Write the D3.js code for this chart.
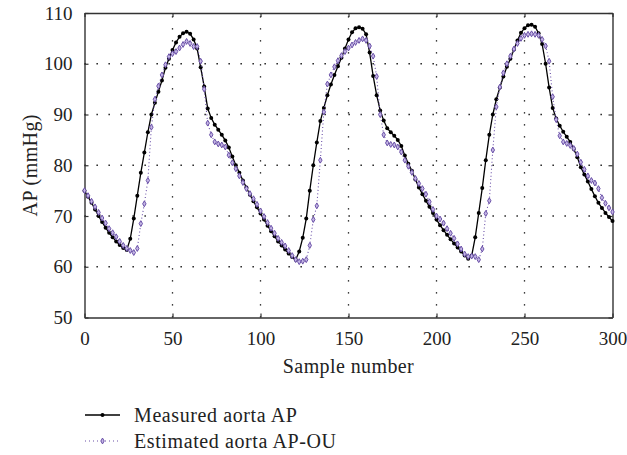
<!DOCTYPE html>
<html>
<head>
<meta charset="utf-8">
<script src="https://cdn.jsdelivr.net/npm/d3@7"></script>
<style>
  html, body { margin: 0; padding: 0; background: #fff; }
  svg text { font-family: "Liberation Serif", "DejaVu Serif", serif; fill: #222; }
</style>
</head>
<body>
<div id="chart"></div>
<script>
// sample index every 2 samples, 0..300
const samples = d3.range(0, 301, 2);

const measured = [
  75.0, 73.8, 72.6, 71.3, 70.0, 68.8, 67.7, 66.7, 65.8, 65.0,
  64.3, 63.7, 63.3, 65.5, 69.5, 74.0, 78.5, 82.5, 86.5, 90.0,
  92.3, 94.5, 96.7, 99.2, 101.0, 102.7, 104.2, 105.3, 106.0, 106.3,
  105.9, 104.8, 103.0, 99.3, 95.5, 91.2, 89.3, 88.0, 87.0, 86.0,
  84.9, 83.5, 81.7, 80.0, 78.5, 77.0, 75.6, 74.2, 72.9, 71.7,
  70.5, 69.3, 68.1, 67.0, 66.0, 65.0, 64.2, 63.4, 62.6, 61.9,
  61.4, 63.0, 65.7, 69.5, 75.0, 80.0, 84.5, 88.7, 91.3, 93.8,
  95.9, 97.8, 99.5, 101.2, 103.0, 104.8, 106.2, 107.0, 107.2, 106.9,
  105.8, 102.2, 97.6, 93.8, 90.8, 88.8, 87.3, 86.5, 85.8, 85.0,
  83.8, 81.9, 80.3, 78.9, 77.2, 75.6, 74.3, 73.0, 71.8, 70.6,
  69.3, 68.2, 67.2, 66.3, 65.4, 64.6, 63.8, 63.0, 62.2, 61.6,
  62.2, 65.8, 70.6, 75.5, 81.0, 86.0, 90.0, 93.0, 95.3, 97.5,
  99.4, 101.0, 102.8, 104.6, 106.1, 107.0, 107.6, 107.7, 107.3, 106.0,
  103.9, 100.0, 95.3, 91.3, 89.2, 87.8, 86.6, 85.6, 84.6, 83.2,
  81.6, 79.6, 78.2, 76.8, 75.3, 73.9, 72.6, 71.6, 70.6, 69.8,
  69.0
];

const estimated = [
  75.0, 74.0, 72.9, 71.8, 70.7, 69.6, 68.6, 67.5, 66.7, 65.9,
  65.0, 64.2, 63.6, 63.2, 62.8, 63.6, 68.5, 72.4, 77.0, 87.5,
  93.0, 95.6, 97.8, 99.8, 101.4, 102.0, 102.4, 103.1, 103.8, 104.4,
  104.0, 103.4, 103.4, 100.5, 95.0, 88.3, 86.0, 84.6, 84.2, 84.0,
  83.6, 82.0, 80.5, 79.3, 77.9, 76.6, 75.4, 74.4, 73.4, 72.3,
  71.0, 69.9, 68.7, 67.6, 66.6, 65.6, 64.8, 64.1, 63.2, 62.2,
  61.4, 61.0, 61.1, 61.4, 64.2, 69.3, 72.0, 81.0, 90.5, 96.0,
  97.8, 99.4, 100.6, 101.6, 102.4, 103.1, 103.7, 104.2, 104.6, 104.9,
  104.6, 103.5, 101.5, 97.5, 90.0, 86.0, 84.4, 84.1, 84.0, 83.6,
  82.6, 81.0, 79.8, 78.6, 77.4, 76.4, 75.4, 74.3, 72.8, 71.3,
  70.0, 69.4, 68.6, 67.5, 66.6, 65.6, 64.5, 63.5, 62.5, 62.0,
  62.1, 62.0, 61.4, 63.5, 70.5, 73.0, 83.0, 91.5, 95.4, 98.2,
  100.0, 101.5, 102.9, 104.0, 105.0, 105.6, 105.8, 105.9, 105.8, 105.6,
  104.8, 103.5, 100.5, 93.5, 89.0, 85.8, 84.6, 84.3, 83.9, 83.3,
  82.2, 80.6, 79.2, 77.9, 77.0, 76.5, 75.4, 73.6, 72.5, 71.6,
  70.8
];

const xTicks = [0, 50, 100, 150, 200, 250, 300];
const yTicks = [50, 60, 70, 80, 90, 100, 110];
const seriesNames = ["Measured aorta AP", "Estimated aorta AP-OU"];

const W = 627, H = 455;
const margin = { top: 13, right: 14.5, bottom: 137.5, left: 84.5 };
const purple = "#6a50a8";

const svg = d3.select("#chart").append("svg")
  .attr("width", W).attr("height", H);

const x = d3.scaleLinear().domain([0, 300]).range([margin.left, W - margin.right]);
const y = d3.scaleLinear().domain([50, 110]).range([H - margin.bottom, margin.top]);

// dotted grid
const grid = svg.append("g").attr("stroke", "#000").attr("stroke-width", 1.3)
  .attr("stroke-dasharray", "1.3,10.7");
grid.selectAll(".gx").data(xTicks.slice(1, -1)).join("line")
  .attr("x1", d => x(d)).attr("x2", d => x(d))
  .attr("y1", y(50)).attr("y2", y(110));
grid.selectAll(".gy").data(yTicks.slice(1, -1)).join("line")
  .attr("x1", x(0)).attr("x2", x(300))
  .attr("y1", d => y(d)).attr("y2", d => y(d));

// axes with inward ticks on all four sides
const fmt = d3.format("d");
const axes = [
  { ax: d3.axisBottom(x).tickValues(xTicks).tickFormat(fmt), t: `translate(0,${y(50)})` },
  { ax: d3.axisTop(x).tickValues(xTicks).tickFormat(""), t: `translate(0,${y(110)})` },
  { ax: d3.axisLeft(y).tickValues(yTicks).tickFormat(fmt), t: `translate(${x(0)},0)` },
  { ax: d3.axisRight(y).tickValues(yTicks).tickFormat(""), t: `translate(${x(300)},0)` }
];
axes.forEach((a, i) => {
  const g = svg.append("g").attr("transform", a.t)
    .call(a.ax.tickSizeInner(-4).tickSizeOuter(0).tickPadding(i < 2 ? 14 : 12));
  g.select(".domain").attr("stroke", "#333").attr("stroke-width", 1.4);
  g.selectAll(".tick line").attr("stroke", "#333").attr("stroke-width", 1.2);
  g.selectAll("text").style("font-size", "19px").attr("fill", "#222");
});

const pts = (vals) => samples.map((s, i) => ({ s, v: vals[i] }));
const line = d3.line().x(d => x(d.s)).y(d => y(d.v));

// measured
svg.append("path").datum(pts(measured))
  .attr("d", line).attr("fill", "none")
  .attr("stroke", "#000").attr("stroke-width", 1.3);
svg.append("g").selectAll("circle").data(pts(measured)).join("circle")
  .attr("cx", d => x(d.s)).attr("cy", d => y(d.v)).attr("r", 2)
  .attr("fill", "#000");

// estimated
const diamond = d3.symbol().type(d3.symbolDiamond).size(10);
svg.append("path").datum(pts(estimated))
  .attr("d", line).attr("fill", "none")
  .attr("stroke", purple).attr("stroke-width", 1.1)
  .attr("stroke-dasharray", "1,2.5");
svg.append("g").selectAll("path").data(pts(estimated)).join("path")
  .attr("d", diamond)
  .attr("transform", d => `translate(${x(d.s)},${y(d.v)})`)
  .attr("fill", "#c4b6e4").attr("stroke", purple).attr("stroke-width", 1);

// axis titles
svg.append("text")
  .attr("x", (x(0) + x(300)) / 2).attr("y", 373)
  .attr("text-anchor", "middle").style("font-size", "20px")
  .attr("letter-spacing", "0.4px")
  .text("Sample number");
svg.append("text")
  .attr("transform", `translate(37,${(y(50) + y(110)) / 2}) rotate(-90)`)
  .attr("text-anchor", "middle").style("font-size", "20px")
  .attr("letter-spacing", "0.4px")
  .text("AP (mmHg)");

// legend
const legend = svg.append("g");
const rows = [415, 441];
legend.append("line").attr("x1", 85).attr("x2", 120).attr("y1", rows[0]).attr("y2", rows[0])
  .attr("stroke", "#000").attr("stroke-width", 1.3);
legend.append("circle").attr("cx", 102.5).attr("cy", rows[0]).attr("r", 2).attr("fill", "#000");
legend.append("line").attr("x1", 85).attr("x2", 120).attr("y1", rows[1]).attr("y2", rows[1])
  .attr("stroke", purple).attr("stroke-width", 1.1).attr("stroke-dasharray", "1,3");
legend.append("path").attr("d", diamond)
  .attr("transform", `translate(102.5,${rows[1]})`)
  .attr("fill", "#c4b6e4").attr("stroke", purple).attr("stroke-width", 1);
legend.selectAll("text").data(seriesNames).join("text")
  .attr("x", 134).attr("y", (d, i) => rows[i] + 6.5)
  .style("font-size", "20px").attr("letter-spacing", "0.6px")
  .text(d => d);
</script>
</body>
</html>
